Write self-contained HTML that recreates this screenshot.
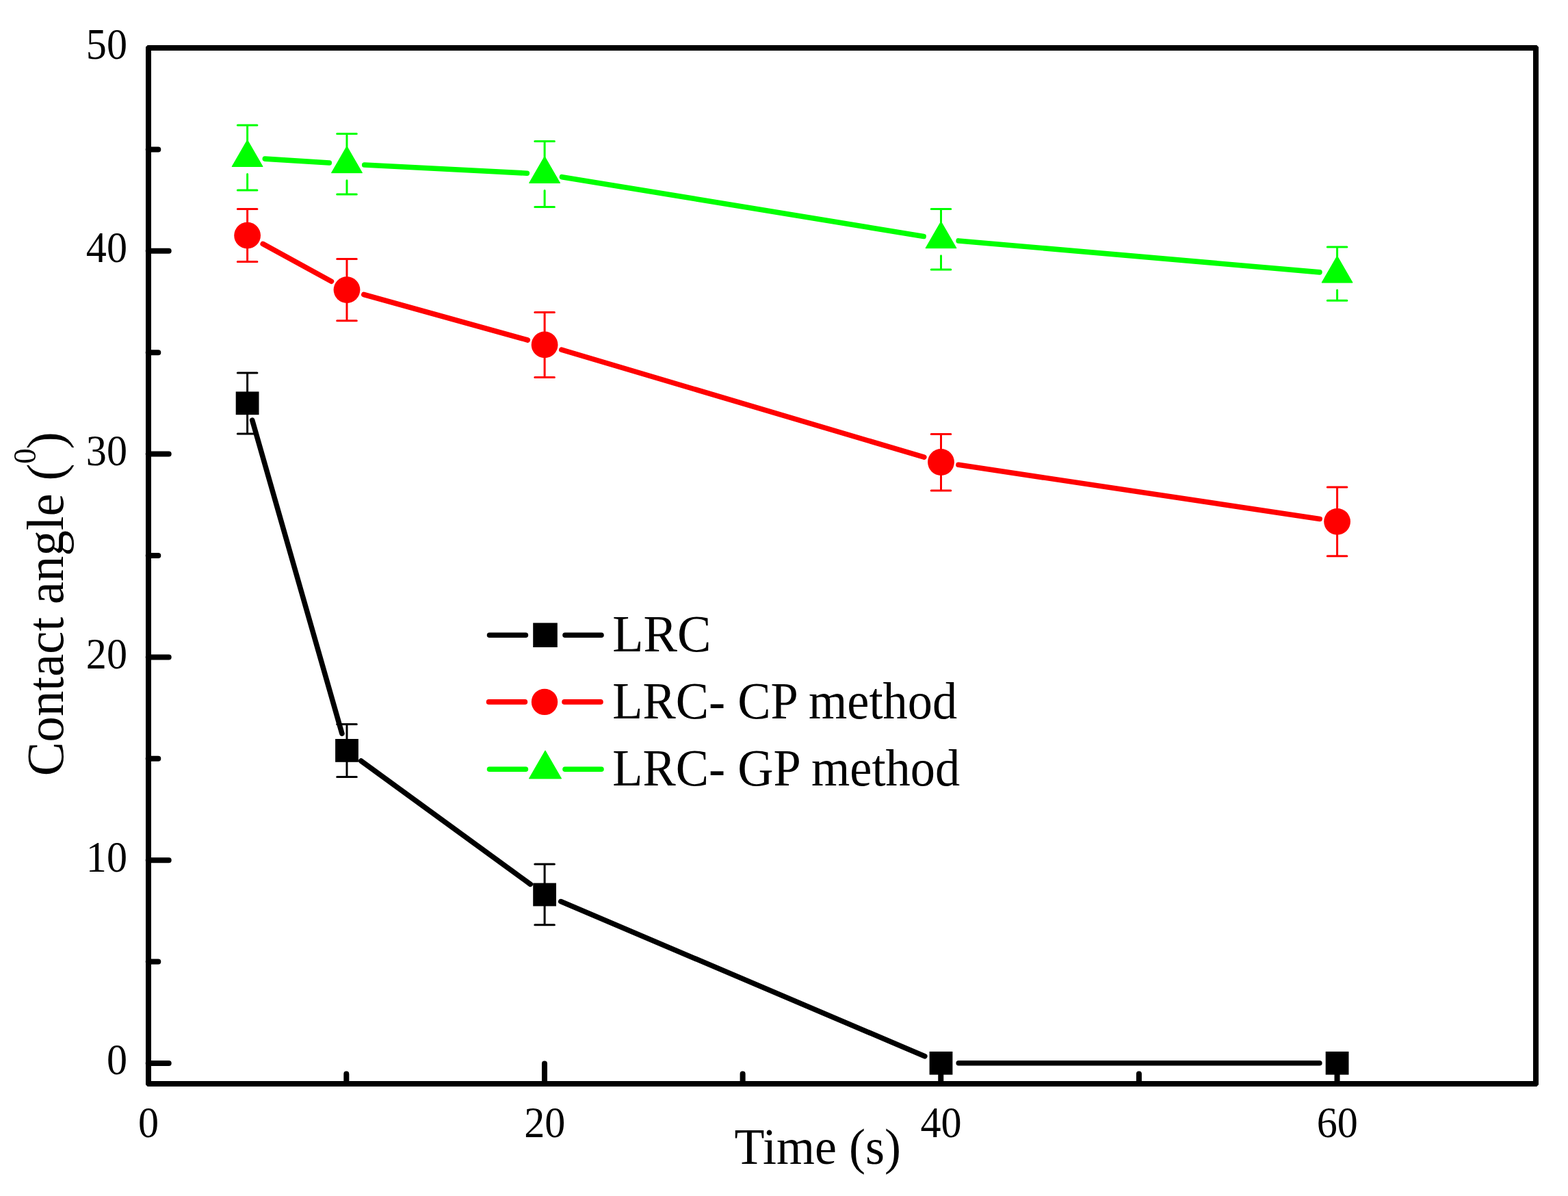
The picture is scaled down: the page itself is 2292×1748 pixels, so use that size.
<!DOCTYPE html>
<html><head><meta charset="utf-8"><title>Contact angle vs Time</title>
<style>html,body{margin:0;padding:0;background:#fff;overflow:hidden;}svg{display:block;}text{font-family:"Liberation Serif","Times New Roman",serif;fill:#000;}</style>
</head><body>
<svg width="2292" height="1748" viewBox="0 0 2292 1748">
<rect width="2292" height="1748" fill="#fff"/>
<path fill-rule="evenodd" fill="#000" d="M215.7 66H2246.3L2249 68.7V1585.3L2246.3 1588H215.7L213 1585.3V68.7Z M221 74V1580H2241V74Z"/>
<path d="M216.7 1554H246.7M216.7 1405.6H231.3M216.7 1257.2H246.7M216.7 1108.8H231.3M216.7 960.4H246.7M216.7 812H231.3M216.7 663.6H246.7M216.7 515.2H231.3M216.7 366.8H246.7M216.7 218.4H231.3M506.34 1583.68V1569.48M795.98 1583.68V1554.48M1085.62 1583.68V1569.48M1375.26 1583.68V1554.48M1664.9 1583.68V1569.48M1954.54 1583.68V1554.48" stroke="#000" stroke-width="8" stroke-linecap="round" fill="none"/>
<path d="M368.69 614.05L499.91 1072.15M527.81 1112.06L775.29 1292.34M819.8 1317.57L1351.8 1543.73M1401.25 1553.8L1928.85 1553.8" stroke="#000000" stroke-width="7.6" stroke-linecap="round" fill="none"/>
<path d="M347.3 545H375.9M361.6 545V589.3M347.3 634.1H375.9M361.6 634.1V589.3M492.7 1058.4H521.3M507 1058.4V1096.9M492.7 1135.4H521.3M507 1135.4V1096.9M781.8 1263H810.4M796.1 1263V1307.5M781.8 1351.8H810.4M796.1 1351.8V1307.5" stroke="#000000" stroke-width="3.0" stroke-linecap="round" fill="none"/>
<rect x="344.7" y="572.4" width="33.8" height="33.8" fill="#000000"/>
<rect x="490.1" y="1080" width="33.8" height="33.8" fill="#000000"/>
<rect x="779.2" y="1290.6" width="33.8" height="33.8" fill="#000000"/>
<rect x="1358.6" y="1536.9" width="33.8" height="33.8" fill="#000000"/>
<rect x="1937.7" y="1536.9" width="33.8" height="33.8" fill="#000000"/>
<path d="M384.19 356.45L484.41 411.25M531.81 430.49L771.29 497.01M820.79 511.21L1350.81 668.19M1400.97 679.32L1929.13 758.48" stroke="#FF0000" stroke-width="7.6" stroke-linecap="round" fill="none"/>
<path d="M347.3 305.6H375.9M361.6 305.6V344.1M347.3 382.6H375.9M361.6 382.6V344.1M492.7 378.6H521.3M507 378.6V423.6M492.7 468.75H521.3M507 468.75V423.6M781.8 456.6H810.4M796.1 456.6V503.9M781.8 551.5H810.4M796.1 551.5V503.9M1361.2 634.5H1389.8M1375.5 634.5V675.5M1361.2 716.9H1389.8M1375.5 716.9V675.5M1940.3 712H1968.9M1954.6 712V762.3M1940.3 812.7H1968.9M1954.6 812.7V762.3" stroke="#FF0000" stroke-width="3.0" stroke-linecap="round" fill="none"/>
<circle cx="361.6" cy="344.1" r="19.4" fill="#FF0000"/>
<circle cx="507" cy="423.6" r="19.4" fill="#FF0000"/>
<circle cx="796.1" cy="503.9" r="19.4" fill="#FF0000"/>
<circle cx="1375.5" cy="675.5" r="19.4" fill="#FF0000"/>
<circle cx="1954.6" cy="762.3" r="19.4" fill="#FF0000"/>
<path d="M387.3 232.12L481.3 238.03M532.72 240.97L770.38 253.18M821.51 258.67L1350.09 345.53M1401.15 351.93L1928.95 397.87" stroke="#00FF00" stroke-width="7.6" stroke-linecap="round" fill="none"/>
<path d="M347.3 183H375.9M361.6 183V206.5M347.3 278H375.9M361.6 278V254.5M492.7 195.4H521.3M507 195.4V215.65M492.7 283.9H521.3M507 283.9V263.65M781.8 206.5H810.4M796.1 206.5V230.5M781.8 302.5H810.4M796.1 302.5V278.5M1361.2 305.5H1389.8M1375.5 305.5V325.7M1361.2 393.9H1389.8M1375.5 393.9V373.7M1940.3 361H1968.9M1954.6 361V376.1M1940.3 439.2H1968.9M1954.6 439.2V424.1" stroke="#00FF00" stroke-width="3.0" stroke-linecap="round" fill="none"/>
<path d="M361.6 204.5L384.12 243.5L339.08 243.5Z" fill="#00FF00" stroke="#00FF00" stroke-width="1" stroke-linejoin="round"/>
<path d="M507 213.65L529.52 252.65L484.48 252.65Z" fill="#00FF00" stroke="#00FF00" stroke-width="1" stroke-linejoin="round"/>
<path d="M796.1 228.5L818.62 267.5L773.58 267.5Z" fill="#00FF00" stroke="#00FF00" stroke-width="1" stroke-linejoin="round"/>
<path d="M1375.5 323.7L1398.02 362.7L1352.98 362.7Z" fill="#00FF00" stroke="#00FF00" stroke-width="1" stroke-linejoin="round"/>
<path d="M1954.6 374.1L1977.12 413.1L1932.08 413.1Z" fill="#00FF00" stroke="#00FF00" stroke-width="1" stroke-linejoin="round"/>
<path d="M715.5 928.2H768.4M826 928.2H879" stroke="#000000" stroke-width="7.6" stroke-linecap="round"/>
<rect x="779.2" y="910.4" width="35.6" height="35.6" fill="#000000"/>
<text transform="translate(897.5 951.9) scale(0.976 1)" x="-2.28" y="0" font-size="76">LRC</text>
<path d="M714.5 1025.9H767.4M825 1025.9H878" stroke="#FF0000" stroke-width="7.6" stroke-linecap="round"/>
<circle cx="796" cy="1025.9" r="19.2" fill="#FF0000"/>
<text transform="translate(897.5 1050) scale(0.952 1)" x="-2.28" y="0" font-size="76">LRC- CP method</text>
<path d="M715.5 1124.3H768.4M826 1124.3H879" stroke="#00FF00" stroke-width="7.6" stroke-linecap="round"/>
<path d="M797 1097L820.64 1137.95L773.36 1137.95Z" fill="#00FF00" stroke="#00FF00" stroke-width="1" stroke-linejoin="round"/>
<text transform="translate(897.5 1148) scale(0.952 1)" x="-2.28" y="0" font-size="76">LRC- GP method</text>
<text transform="translate(186 1570.4) scale(0.955 1)" font-size="63" text-anchor="end">0</text>
<text transform="translate(186 1273.6) scale(0.955 1)" font-size="63" text-anchor="end">10</text>
<text transform="translate(186 976.8) scale(0.955 1)" font-size="63" text-anchor="end">20</text>
<text transform="translate(186 680) scale(0.955 1)" font-size="63" text-anchor="end">30</text>
<text transform="translate(186 383.2) scale(0.955 1)" font-size="63" text-anchor="end">40</text>
<text transform="translate(186 86.4) scale(0.955 1)" font-size="63" text-anchor="end">50</text>
<text transform="translate(217 1662.3) scale(0.955 1)" font-size="63" text-anchor="middle">0</text>
<text transform="translate(796.28 1662.3) scale(0.955 1)" font-size="63" text-anchor="middle">20</text>
<text transform="translate(1375.56 1662.3) scale(0.955 1)" font-size="63" text-anchor="middle">40</text>
<text transform="translate(1954.84 1662.3) scale(0.955 1)" font-size="63" text-anchor="middle">60</text>
<text transform="translate(1075.06 1700.9) scale(0.96 1)" x="-1.5" y="0" font-size="75">Time (s)</text>
<g transform="translate(92 1131.3) rotate(-90)"><text transform="scale(0.9836 1)" x="-3.04" y="0" font-size="76">Contact angle (</text><text x="453.27" y="-40" font-size="45.7">0</text><text x="474.72" y="0" font-size="76">)</text></g>
</svg>
</body></html>
